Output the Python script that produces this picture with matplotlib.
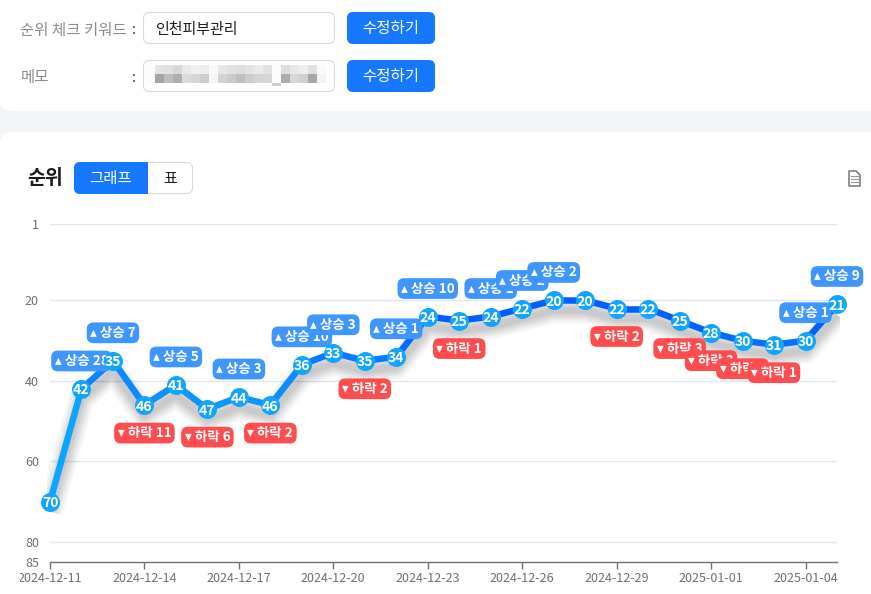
import matplotlib
matplotlib.use("Agg")
import matplotlib.pyplot as plt
from matplotlib.patches import FancyBboxPatch, Rectangle, Polygon
from matplotlib.transforms import Bbox, ScaledTranslation
from matplotlib.colors import LinearSegmentedColormap

plt.rcParams['font.family'] = ['Noto Sans CJK KR', 'DejaVu Sans']

dates = ["2024-12-11", "2024-12-12", "2024-12-13", "2024-12-14", "2024-12-15", "2024-12-16",
         "2024-12-17", "2024-12-18", "2024-12-19", "2024-12-20", "2024-12-21", "2024-12-22",
         "2024-12-23", "2024-12-24", "2024-12-25", "2024-12-26", "2024-12-27", "2024-12-28",
         "2024-12-29", "2024-12-30", "2024-12-31", "2025-01-01", "2025-01-02", "2025-01-03",
         "2025-01-04", "2025-01-05"]
ranks = [70, 42, 35, 46, 41, 47, 44, 46, 36, 33, 35, 34, 24, 25, 24, 22, 20, 20, 22, 22, 25, 28, 30, 31, 30, 21]
changes = [0, 28, 7, -11, 5, -6, 3, -2, 10, 3, -2, 1, 10, -1, 1, 2, 2, 0, -2, 0, -3, -3, -2, -1, 1, 9]
y_ticks = [1, 20, 40, 60, 80, 85]

# pixelated memo field
blur_top = [252, 228, 225, 216, 232, 240, 238, 250, 232, 226, 222, 228, 234, 226, 252, 222, 232, 238, 224, 250]
blur_bottom = [252, 165, 190, 175, 220, 214, 205, 246, 212, 202, 192, 205, 212, 214, 252, 172, 215, 208, 168, 244]

W, H = 871, 594
BLUE = "#1677ff"
fig = plt.figure(figsize=(W / 100, H / 100), dpi=100, facecolor="#f4f5f9")


def px(size):
    return size * 0.72


# page furniture, in pixels
ui = fig.add_axes([0, 0, 1, 1])
ui.set_xlim(0, W)
ui.set_ylim(H, 0)
ui.axis("off")


def round_box(x0, y0, x1, y1, face, edge="none", r=6, z=2):
    ui.add_patch(FancyBboxPatch((x0, y0), x1 - x0, y1 - y0, boxstyle=f"round,pad=0,rounding_size={r}",
                                fc=face, ec=edge, lw=0.8, zorder=z))


round_box(0, -30, W + 20, 111, "white", r=12, z=1)
round_box(0, 132, W + 20, H + 30, "white", r=12, z=1)

ui.text(20, 30, "순위 체크 키워드", fontsize=px(15.5), color="#8c8c8c", va="center")
ui.text(132, 30, ":", fontsize=px(14), color="#333333", va="center")
ui.text(21, 77, "메모", fontsize=px(15.5), color="#8c8c8c", va="center")
ui.text(132, 78, ":", fontsize=px(14), color="#333333", va="center")

round_box(143.5, 12.5, 334.5, 43.5, "white", "#d9d9d9")
ui.text(156, 30, "인천피부관리", fontsize=px(15), color="#1f1f1f", va="center")
round_box(143.5, 60.5, 334.5, 91.5, "white", "#d9d9d9")

for i in range(len(blur_top)):
    x = 146 + i * 9
    ui.add_patch(Rectangle((x, 65), 9, 9, fc=str(blur_top[i] / 255), ec="none", zorder=3))
    ui.add_patch(Rectangle((x, 74), 9, 9, fc=str(blur_bottom[i] / 255), ec="none", zorder=3))
ui.add_patch(Rectangle((272, 83), 9, 3, fc="0.8", ec="none", zorder=3))

for y0 in (12, 60):
    round_box(347, y0, 435, y0 + 32, BLUE)
    ui.text(391, y0 + 17, "수정하기", fontsize=px(15.5), color="white", ha="center", va="center", zorder=4)

ui.text(27, 179, "순위", fontsize=px(19.5), fontweight="bold", color="#1a1a1a", va="center")
round_box(74.5, 162.5, 192.5, 193.5, "white", "#d9d9d9")
round_box(74, 162, 148, 194, BLUE, z=3)
ui.add_patch(Rectangle((140, 162), 8, 32, fc=BLUE, ec="none", zorder=3))
ui.text(111, 179, "그래프", fontsize=px(15.5), color="white", ha="center", va="center", zorder=4)
ui.text(170, 179, "표", fontsize=px(15), color="#1f1f1f", ha="center", va="center", zorder=4)

ui.add_patch(Polygon([(849, 171), (856, 171), (860, 175), (860, 186), (849, 186)], closed=True,
                     fc="white", ec="#666666", lw=1.0, zorder=3))
for y in (176, 179, 182):
    ui.plot([851, 858], [y, y], color="#999999", lw=0.8, zorder=4)

# chart
ax = fig.add_axes([50 / W, (H - 562) / H, (837 - 50) / W, (562 - 224) / H])
ax.patch.set_alpha(0)
xs = list(range(len(ranks)))
ax.set_xlim(0, len(ranks) - 1)
ax.set_ylim(85, 1)

for s in ("top", "left", "right"):
    ax.spines[s].set_visible(False)
ax.spines["bottom"].set_color("#6e7079")
ax.spines["bottom"].set_linewidth(1)

ax.set_yticks(y_ticks)
ax.yaxis.set_tick_params(length=0, pad=8, labelcolor="#6e7079", labelsize=px(12.5))
for t in y_ticks[:-1]:
    ax.axhline(t, color="#e0e6f1", lw=1, zorder=0)

ax.set_xticks(xs[::3])
ax.set_xticklabels(dates[::3])
ax.xaxis.set_tick_params(length=5, width=1, color="#6e7079", pad=2, labelcolor="#6e7079", labelsize=px(12.6))
for lab in ax.get_xticklabels():
    lab.set_clip_box(Bbox([[20, 0], [W, H]]))
    lab.set_clip_on(True)

# soft shadow under the line
shadow_tf = ax.transData + ScaledTranslation(0, -10 / 100, fig.dpi_scale_trans)
for w in (26, 22, 18, 15, 12, 9, 6):
    line, = ax.plot(xs, ranks, color="black", alpha=0.03, lw=px(w), transform=shadow_tf,
                    solid_joinstyle="round", solid_capstyle="butt", zorder=1)
    line.set_clip_box(Bbox([[47, 0], [840, H]]))

# line colour follows the rank
cmap = LinearSegmentedColormap.from_list("rank", ["#0060ff", "#0a7cff", "#0c96ff", "#0aa5ff"])
for i in range(len(ranks) - 1):
    mid = (ranks[i] + ranks[i + 1]) / 2
    ax.plot(xs[i:i + 2], ranks[i:i + 2], color=cmap(float(min(max((mid - 25) / 30, 0), 1))), lw=px(6.5),
            solid_capstyle="round", clip_on=False, zorder=2)

for i, c in enumerate(changes):
    if c == 0:
        continue
    if c > 0:
        txt, color, off = f"▴ 상승 {c}", "#4096ff", 28
    else:
        txt, color, off = f"▾ 하락 {-c}", "#ff4d4f", -28
    ax.annotate(txt, (xs[i], ranks[i]), xytext=(0, px(off)), textcoords="offset points",
                ha="center", va="center", color="white", fontsize=px(13.5), fontweight="bold",
                bbox=dict(boxstyle="round,pad=0.25,rounding_size=0.5", fc=color, ec="none"),
                annotation_clip=False, zorder=3 + i * 0.01)

ax.plot(xs, ranks, ls="none", marker="o", ms=px(19), mfc="#12a5ff", mec="none", clip_on=False, zorder=4)
for x, r in zip(xs, ranks):
    ax.text(x, r, str(r), color="white", fontsize=px(14), fontweight="bold", ha="center",
            va="center_baseline", zorder=5)

fig.savefig("out.png", dpi=100, facecolor=fig.get_facecolor())
